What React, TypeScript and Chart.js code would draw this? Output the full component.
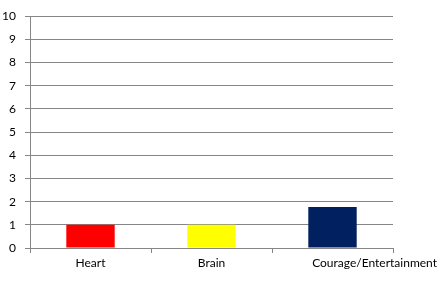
import React, { useEffect, useRef } from "react";
import { Chart, registerables } from "chart.js";

Chart.register(...registerables);

const categories = ["Heart", "Brain", "Courage/Entertainment"];
const values = [1, 1, 1.77];
const barColors = ["#FF0000", "#FFFF00", "#002060"];
const yMin = 0;
const yMax = 10;
const yStep = 1;

const GRID = "#868686";
const FONT = "Lato, 'Open Sans', sans-serif";

export default function App() {
  const ref = useRef<HTMLCanvasElement | null>(null);
  useEffect(() => {
    document.body.style.margin = "0";
    if (!ref.current) return;
    const xLabelPlugin = {
      id: "xLabels",
      afterDraw(chart: any) {
        const ctx = chart.ctx;
        const xs = chart.scales.x;
        ctx.save();
        ctx.font = `12px ${FONT}`;
        ctx.fillStyle = "#000";
        ctx.textBaseline = "middle";
        const y = xs.top + 15;
        categories.forEach((c, i) => {
          const cx = xs.getPixelForTick(i);
          const w = ctx.measureText(c).width;
          let left = cx - w / 2;
          const maxRight = chart.width - 7;
          if (i === categories.length - 1) left = maxRight - w;
          ctx.textAlign = "left";
          ctx.fillText(c, left, y);
        });
        ctx.restore();
      },
    };
    const chart = new Chart(ref.current, {
      type: "bar",
      data: {
        labels: categories,
        datasets: [
          {
            data: values,
            backgroundColor: barColors,
            borderWidth: 0,
            barPercentage: 0.4,
            categoryPercentage: 1,
          },
        ],
      },
      options: {
        animation: false,
        responsive: false,
        maintainAspectRatio: false,
        layout: { padding: { top: 15, right: 51, left: 0, bottom: 0 } },
        plugins: { legend: { display: false }, tooltip: { enabled: false } },
        scales: {
          x: {
            offset: true,
            grid: {
              offset: true,
              drawOnChartArea: false,
              drawTicks: true,
              tickLength: 5,
              color: GRID,
            },
            border: { color: GRID },
            ticks: { display: false },
            afterFit(scale: any) {
              scale.height = 43;
            },
          },
          y: {
            min: yMin,
            max: yMax,
            ticks: {
              stepSize: yStep,
              padding: 9,
              color: "#000",
              font: { family: FONT, size: 12 },
            },
            grid: { color: GRID, tickLength: 5 },
            border: { color: GRID },
            afterFit(scale: any) {
              scale.width = 30;
            },
          },
        },
      },
      plugins: [xLabelPlugin],
    });
    return () => chart.destroy();
  }, []);
  return (
    <div style={{ width: 444, height: 291 }}>
      <canvas ref={ref} width={444} height={291} />
    </div>
  );
}
